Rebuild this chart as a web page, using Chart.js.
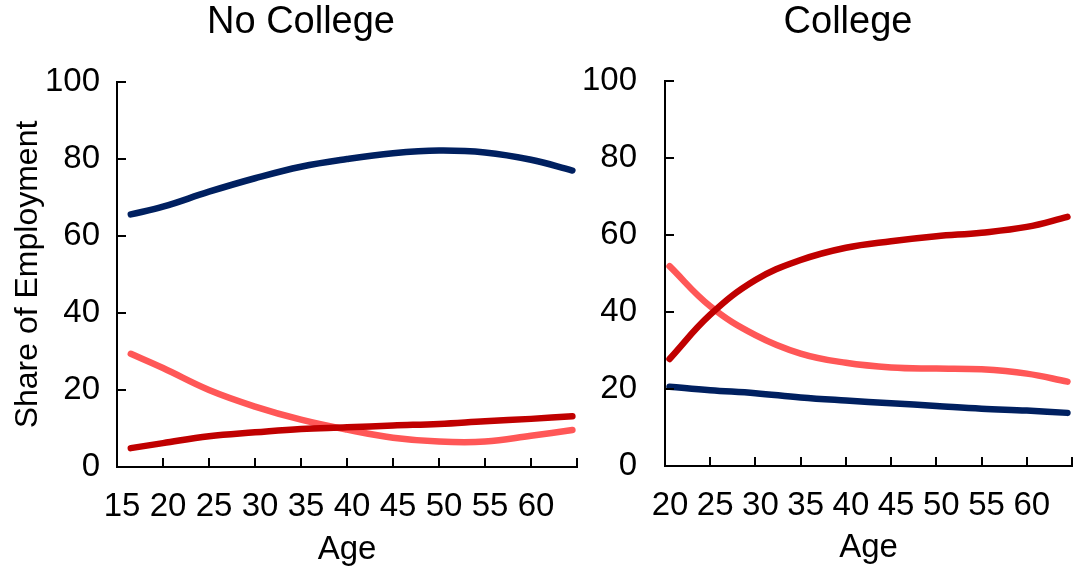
<!DOCTYPE html>
<html>
<head>
<meta charset="utf-8">
<script src="https://cdn.jsdelivr.net/npm/chart.js@4/dist/chart.umd.min.js"></script>
<style>
  html, body { margin: 0; padding: 0; background: #fff; }
  #wrap { position: relative; width: 1092px; height: 570px; }
  #noCollegeChart { position: absolute; left: 0; top: 0; z-index: 1; }
  #collegeChart { position: absolute; left: 560px; top: 0; z-index: 2; }
</style>
</head>
<body>
<div id="wrap">
  <canvas id="noCollegeChart" width="600" height="570"></canvas>
  <canvas id="collegeChart" width="532" height="570"></canvas>
</div>
<script>
// Ages (x) for each panel
const agesNoCollege = [16.5, 20, 25, 30, 35, 40, 45, 50, 55, 60, 64.5];
const agesCollege = [20.5, 25, 30, 35, 40, 45, 50, 55, 60, 64.5];

// No College, share of employment (%)
const noCollegeNavy = [65.6, 67.6, 71.5, 75, 78, 80, 81.5, 82.2, 81.7, 79.8, 77];
const noCollegeDarkRed = [4.9, 6.2, 8, 9, 9.9, 10.3, 10.8, 11.2, 11.9, 12.5, 13.2];
const noCollegeSalmon = [29.4, 25.7, 20, 15.7, 12.3, 9.7, 7.6, 6.6, 6.6, 8.1, 9.6];

// College, share of employment (%)
const collegeNavy = [20.6, 19.7, 18.9, 17.8, 17, 16.3, 15.6, 14.9, 14.4, 13.8];
const collegeDarkRed = [27.8, 39.3, 48.3, 53.5, 56.7, 58.4, 59.7, 60.6, 62.1, 64.7];
const collegeSalmon = [51.9, 41.5, 34, 29.2, 26.8, 25.6, 25.3, 25.1, 24, 21.9];

const yTicks = [0, 20, 40, 60, 80, 100];

const NAVY = '#002060';
const DARK_RED = '#C00000';
const SALMON = '#FF5757';
const FONT = 'Liberation Sans, Arial, sans-serif';

function toPoints(xs, ys) {
    return xs.map((x, i) => ({ x: x, y: ys[i] }));
}

function lineSet(xs, ys, color) {
    return {
        data: toPoints(xs, ys),
        borderColor: color,
        borderWidth: 6.5,
        borderCapStyle: 'round',
        borderJoinStyle: 'round',
        pointRadius: 0,
        tension: 0.4,
        fill: false
    };
}

// tick marks drawn inside the plot, like the original
const insideTicks = {
    id: 'insideTicks',
    afterDraw(chart) {
        const ctx = chart.ctx;
        const x = chart.scales.x;
        const y = chart.scales.y;
        const len = 9;
        ctx.save();
        ctx.strokeStyle = '#000';
        ctx.lineWidth = 2;
        ctx.beginPath();
        x.ticks.forEach(t => {
            if (t.value === x.min) return;
            const px = Math.round(x.getPixelForValue(t.value));
            ctx.moveTo(px, x.top);
            ctx.lineTo(px, x.top - len);
        });
        y.ticks.forEach(t => {
            if (t.value === y.min) return;
            const py = Math.round(y.getPixelForValue(t.value));
            ctx.moveTo(y.right, py);
            ctx.lineTo(y.right + len, py);
        });
        ctx.stroke();
        ctx.restore();
    }
};

function makeChart(canvasId, title, xs, navy, darkRed, salmon, opts) {
    const ctx = document.getElementById(canvasId).getContext('2d');
    return new Chart(ctx, {
        type: 'line',
        data: {
            datasets: [
                lineSet(xs, navy, NAVY),
                lineSet(xs, darkRed, DARK_RED),
                lineSet(xs, salmon, SALMON)
            ]
        },
        plugins: [insideTicks],
        options: {
            responsive: false,
            animation: false,
            layout: {
                padding: { top: 0, right: opts.padRight, left: opts.padLeft, bottom: 0 }
            },
            plugins: {
                legend: { display: false },
                tooltip: { enabled: false },
                title: {
                    display: true,
                    text: title,
                    color: '#000',
                    font: { family: FONT, size: 38, weight: 'normal' },
                    padding: { top: 0, bottom: opts.titleGap }
                }
            },
            scales: {
                x: {
                    type: 'linear',
                    min: opts.xMin,
                    max: 65,
                    grid: { display: false, drawTicks: false },
                    border: { color: '#000', width: 2 },
                    afterBuildTicks: function(scale) {
                        const t = [];
                        for (let v = opts.xMin; v <= 65; v += 5) t.push({ value: v });
                        scale.ticks = t;
                    },
                    afterFit: function(scale) { scale.height = opts.xHeight; },
                    ticks: {
                        autoSkip: false,
                        maxRotation: 0,
                        padding: 20,
                        labelOffset: 5,
                        color: '#000',
                        font: { family: FONT, size: 33 },
                        callback: v => (v === 65 ? '' : String(v))
                    },
                    title: {
                        display: true,
                        text: 'Age',
                        color: '#000',
                        font: { family: FONT, size: 33 },
                        padding: { top: 0, bottom: opts.agePad }
                    }
                },
                y: {
                    min: 0,
                    max: 100,
                    grid: { display: false, drawTicks: false },
                    border: { color: '#000', width: 2 },
                    afterBuildTicks: function(scale) {
                        scale.ticks = yTicks.map(v => ({ value: v }));
                    },
                    afterFit: function(scale) { scale.width = opts.yWidth; },
                    // let the "100" label run past the scale box (no clipping)
                    afterUpdate: function(scale) { scale._computeLabelArea = function() {}; },
                    ticks: {
                        padding: opts.yPad,
                        color: '#000',
                        font: { family: FONT, size: 33 }
                    },
                    title: {
                        display: opts.yTitle !== '',
                        text: opts.yTitle,
                        color: '#000',
                        font: { family: FONT, size: 32 },
                        padding: { top: -16, bottom: 0 }
                    }
                }
            }
        }
    });
}

makeChart('noCollegeChart', 'No College', agesNoCollege,
    noCollegeNavy, noCollegeDarkRed, noCollegeSalmon,
    { xMin: 15, padLeft: 25, padRight: 23, yWidth: 92, yPad: 17, titleGap: 36.4,
      xHeight: 103, agePad: 0, yTitle: 'Share of Employment' });

makeChart('collegeChart', 'College', agesCollege,
    collegeNavy, collegeDarkRed, collegeSalmon,
    { xMin: 20, padLeft: 47, padRight: 3, yWidth: 58, yPad: 28, titleGap: 35.4,
      xHeight: 104, agePad: 2, yTitle: '' });
</script>
</body>
</html>
